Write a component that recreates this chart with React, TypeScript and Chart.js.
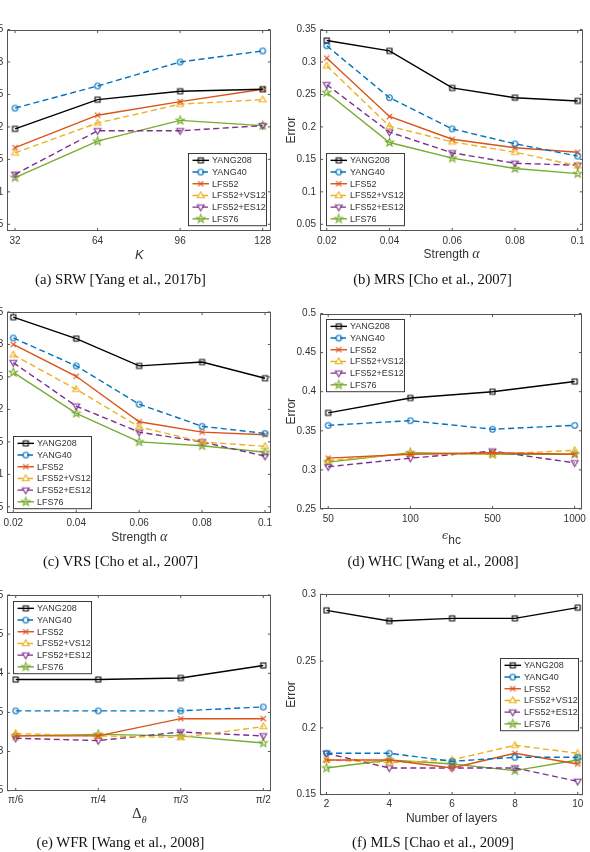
import React, { useEffect, useRef } from 'react';
import { Chart, registerables } from 'chart.js';

Chart.register(...registerables);
Chart.defaults.font.family = '"Liberation Sans", Arial, sans-serif';

// ---- series shared by all six panels ----
const SERIES = ['YANG208', 'YANG40', 'LFS52', 'LFS52+VS12', 'LFS52+ES12', 'LFS76'];

// (a) SRW
const SRW_K = [32, 64, 96, 128];
const SRW_YANG208 = [0.197, 0.242, 0.255, 0.258];
const SRW_YANG40 = [0.229, 0.263, 0.3, 0.317];
const SRW_LFS52 = [0.168, 0.218, 0.239, 0.258];
const SRW_VS12 = [0.16, 0.206, 0.235, 0.242];
const SRW_ES12 = [0.127, 0.194, 0.194, 0.202];
const SRW_LFS76 = [0.122, 0.178, 0.21, 0.202];

// (b) MRS
const MRS_ALPHA = [0.02, 0.04, 0.06, 0.08, 0.1];
const MRS_YANG208 = [0.333, 0.317, 0.26, 0.245, 0.24];
const MRS_YANG40 = [0.325, 0.245, 0.197, 0.174, 0.155];
const MRS_LFS52 = [0.306, 0.216, 0.181, 0.168, 0.161];
const MRS_VS12 = [0.294, 0.201, 0.177, 0.161, 0.14];
const MRS_ES12 = [0.265, 0.192, 0.16, 0.144, 0.141];
const MRS_LFS76 = [0.253, 0.176, 0.152, 0.136, 0.128];

// (c) VRS
const VRS_ALPHA = [0.02, 0.04, 0.06, 0.08, 0.1];
const VRS_YANG208 = [0.342, 0.309, 0.267, 0.273, 0.248];
const VRS_YANG40 = [0.31, 0.267, 0.208, 0.174, 0.163];
const VRS_LFS52 = [0.3, 0.251, 0.181, 0.165, 0.161];
const VRS_VS12 = [0.284, 0.231, 0.173, 0.15, 0.143];
const VRS_ES12 = [0.272, 0.205, 0.165, 0.15, 0.128];
const VRS_LFS76 = [0.257, 0.194, 0.15, 0.144, 0.134];

// (d) WHC — evenly spaced categories
const WHC_EPS_LABELS = ['50', '100', '500', '1000'];
const WHC_YANG208 = [0.373, 0.392, 0.4, 0.413];
const WHC_YANG40 = [0.357, 0.363, 0.352, 0.357];
const WHC_LFS52 = [0.315, 0.32, 0.322, 0.32];
const WHC_VS12 = [0.312, 0.321, 0.32, 0.325];
const WHC_ES12 = [0.304, 0.315, 0.324, 0.309];
const WHC_LFS76 = [0.31, 0.322, 0.32, 0.32];

// (e) WFR — evenly spaced categories
const WFR_DELTA_LABELS = ['π/6', 'π/4', 'π/3', 'π/2'];
const WFR_YANG208 = [0.392, 0.392, 0.394, 0.41];
const WFR_YANG40 = [0.352, 0.352, 0.352, 0.357];
const WFR_LFS52 = [0.32, 0.32, 0.342, 0.342];
const WFR_VS12 = [0.323, 0.32, 0.318, 0.332];
const WFR_ES12 = [0.317, 0.314, 0.325, 0.32];
const WFR_LFS76 = [0.32, 0.322, 0.32, 0.311];

// (f) MLS
const MLS_LAYERS = [2, 4, 6, 8, 10];
const MLS_YANG208 = [0.288, 0.28, 0.282, 0.282, 0.29];
const MLS_YANG40 = [0.181, 0.181, 0.175, 0.178, 0.178];
const MLS_LFS52 = [0.176, 0.176, 0.17, 0.181, 0.173];
const MLS_VS12 = [0.176, 0.174, 0.176, 0.187, 0.181];
const MLS_ES12 = [0.181, 0.17, 0.17, 0.17, 0.16];
const MLS_LFS76 = [0.17, 0.176, 0.173, 0.168, 0.176];

// y tick sets
const Y_TICKS_LOW = [0.05, 0.1, 0.15, 0.2, 0.25, 0.3, 0.35];
const Y_TICKS_HIGH = [0.25, 0.3, 0.35, 0.4, 0.45, 0.5];
const Y_TICKS_MLS = [0.15, 0.2, 0.25, 0.3];

// ---- styling ----
const COLORS = ['#000000', '#0072BD', '#D95319', '#EDB120', '#7E2F8E', '#77AC30'];
const DASH = [6, 3.5];
const DASHES = [[], DASH, [], DASH, DASH, []];
const MARKERS = ['square', 'circle', 'x', 'up', 'down', 'star'];
const TEXT = '#333333';
const FRAME = '#555555';
const TICK_FONT = 10;
const LEGEND_FONT = 9;

function makeMarker(kind: string, color: string): HTMLCanvasElement {
  const c = document.createElement('canvas');
  c.width = 13;
  c.height = 13;
  const g = c.getContext('2d')!;
  const m = 6.5;
  g.strokeStyle = color;
  g.lineWidth = 1.1;
  g.beginPath();
  if (kind === 'square') g.rect(m - 2.5, m - 2.5, 5, 5);
  else if (kind === 'circle') g.arc(m, m, 2.8, 0, Math.PI * 2);
  else if (kind === 'x') {
    g.moveTo(m - 2.7, m - 2.7); g.lineTo(m + 2.7, m + 2.7);
    g.moveTo(m + 2.7, m - 2.7); g.lineTo(m - 2.7, m + 2.7);
  } else if (kind === 'up') {
    g.moveTo(m, m - 3.6); g.lineTo(m + 3.4, m + 2.3); g.lineTo(m - 3.4, m + 2.3); g.closePath();
  } else if (kind === 'down') {
    g.moveTo(m, m + 3.6); g.lineTo(m + 3.4, m - 2.3); g.lineTo(m - 3.4, m - 2.3); g.closePath();
  } else if (kind === 'star') {
    for (let k = 0; k < 10; k++) {
      const r = k % 2 === 0 ? 4.3 : 1.75;
      const a = -Math.PI / 2 + (k * Math.PI) / 5;
      const px = m + r * Math.cos(a);
      const py = m + r * Math.sin(a);
      if (k === 0) g.moveTo(px, py); else g.lineTo(px, py);
    }
    g.closePath();
  }
  g.stroke();
  return c;
}

// Axes box, inward tick marks and a boxed legend with line + marker samples
const framePlugin = {
  id: 'frame',
  afterDatasetsDraw(chart: any, _args: any, opts: any) {
    const { ctx, chartArea: a, scales } = chart;
    ctx.save();
    ctx.setLineDash([]);
    ctx.strokeStyle = FRAME;
    ctx.lineWidth = 1;
    const L = Math.round(a.left) + 0.5;
    const R = Math.round(a.right) - 0.5;
    const T = Math.round(a.top) + 0.5;
    const B = Math.round(a.bottom) - 0.5;
    ctx.strokeRect(L, T, R - L, B - T);
    const tl = 2.6;
    ctx.beginPath();
    scales.x.ticks.forEach((t: any) => {
      const px = scales.x.getPixelForValue(t.value);
      ctx.moveTo(px, B); ctx.lineTo(px, B - tl);
      ctx.moveTo(px, T); ctx.lineTo(px, T + tl);
    });
    scales.y.ticks.forEach((t: any) => {
      const py = scales.y.getPixelForValue(t.value);
      ctx.moveTo(L, py); ctx.lineTo(L + tl, py);
      ctx.moveTo(R, py); ctx.lineTo(R - tl, py);
    });
    ctx.stroke();

    // legend
    const ds = chart.data.datasets;
    const rowH = 11.7;
    const w = 78;
    const h = ds.length * rowH + 2;
    const inset = 5.5;
    let x0 = a.left + inset;
    let y0 = a.top + inset;
    if (opts.loc === 'se' || opts.loc === 'e') x0 = a.right - inset - w;
    if (opts.loc === 'se' || opts.loc === 'sw') y0 = a.bottom - inset - h;
    if (opts.loc === 'e') y0 = (a.top + a.bottom) / 2 - h / 2;
    x0 = Math.round(x0) + 0.5;
    y0 = Math.round(y0) + 0.5;
    ctx.fillStyle = '#ffffff';
    ctx.fillRect(x0, y0, w, h);
    ctx.strokeStyle = '#3a3a3a';
    ctx.strokeRect(x0, y0, w, h);
    ctx.font = `${LEGEND_FONT}px "Liberation Sans", Arial, sans-serif`;
    ctx.textBaseline = 'middle';
    ds.forEach((d: any, i: number) => {
      const cy = y0 + 1 + rowH * (i + 0.5);
      ctx.strokeStyle = d.borderColor;
      ctx.lineWidth = d.borderWidth;
      ctx.setLineDash(d.borderDash || []);
      ctx.beginPath();
      ctx.moveTo(x0 + 4, cy);
      ctx.lineTo(x0 + 20.5, cy);
      ctx.stroke();
      ctx.setLineDash([]);
      const mk = d.pointStyle as HTMLCanvasElement;
      ctx.drawImage(mk, x0 + 12.3 - mk.width / 2, cy - mk.height / 2);
      ctx.fillStyle = TEXT;
      ctx.fillText(d.label, x0 + 23.5, cy + 0.5);
    });
    ctx.restore();
  },
};

type Box = { left: number; top: number; right: number; bottom: number };
type Spec = {
  canvasLeft: number;
  canvasTop: number;
  canvasWidth: number;
  plot: Box;
  xs: number[];
  xTicks: number[];
  xTickLabels?: string[];
  xMin: number;
  xMax: number;
  yMin: number;
  yMax: number;
  yTicks: number[];
  series: number[][];
  legendLoc: string;
  xTitle: React.ReactNode;
  xTitleY: number;
  caption: string;
  captionX: number;
  captionY: number;
};

const fmt = (v: number) => String(+v.toFixed(3));

function buildConfig(s: Spec, height: number): any {
  const padTop = s.plot.top - s.canvasTop;
  const yAxisW = s.plot.left - s.canvasLeft;
  const padRight = s.canvasLeft + s.canvasWidth - s.plot.right;
  const xAxisH = s.canvasTop + height - s.plot.bottom;
  const tickFont = { size: TICK_FONT, family: '"Liberation Sans", Arial, sans-serif' };
  return {
    type: 'line',
    data: {
      datasets: SERIES.map((name, i) => ({
        label: name,
        data: s.xs.map((x, j) => ({ x, y: s.series[i][j] })),
        borderColor: COLORS[i],
        backgroundColor: COLORS[i],
        borderWidth: 1.4,
        borderDash: DASHES[i],
        pointStyle: makeMarker(MARKERS[i], COLORS[i]),
        pointRadius: 4,
        pointHoverRadius: 4,
        fill: false,
        tension: 0,
      })),
    },
    options: {
      animation: false,
      responsive: false,
      devicePixelRatio: 1,
      events: [],
      layout: { padding: { top: padTop, right: padRight, left: 0, bottom: 0 } },
      plugins: {
        legend: { display: false },
        tooltip: { enabled: false },
        frame: { loc: s.legendLoc },
      },
      scales: {
        x: {
          type: 'linear',
          min: s.xMin,
          max: s.xMax,
          grid: { display: false, drawTicks: false },
          border: { display: false },
          afterBuildTicks: (sc: any) => {
            sc.ticks = s.xTicks.map((v) => ({ value: v }));
          },
          afterFit: (sc: any) => {
            sc.height = xAxisH;
          },
          ticks: {
            padding: 4,
            color: TEXT,
            font: tickFont,
            autoSkip: false,
            maxRotation: 0,
            callback: (v: number, i: number) => (s.xTickLabels ? s.xTickLabels[i] : fmt(v)),
          },
        },
        y: {
          type: 'linear',
          min: s.yMin,
          max: s.yMax,
          grid: { display: false, drawTicks: false },
          border: { display: false },
          afterBuildTicks: (sc: any) => {
            sc.ticks = s.yTicks.map((v) => ({ value: v }));
          },
          afterFit: (sc: any) => {
            sc.width = yAxisW;
          },
          title: {
            display: true,
            text: 'Error',
            color: TEXT,
            font: { size: 12, family: '"Liberation Sans", Arial, sans-serif' },
            padding: { top: 4.8, bottom: 0 },
          },
          ticks: {
            padding: 4,
            color: TEXT,
            font: tickFont,
            autoSkip: false,
            callback: (v: number) => fmt(v),
          },
        },
      },
    },
    plugins: [framePlugin],
  };
}

const abs = (x: number, y: number): React.CSSProperties => ({
  position: 'absolute',
  left: x,
  top: y,
  transform: 'translate(-50%, -50%)',
  whiteSpace: 'nowrap',
  lineHeight: 1,
});

function Panel({ spec }: { spec: Spec }) {
  const ref = useRef<HTMLCanvasElement>(null);
  const height = Math.ceil(spec.plot.bottom + 20 - spec.canvasTop);
  useEffect(() => {
    const chart = new Chart(ref.current as HTMLCanvasElement, buildConfig(spec, height));
    return () => chart.destroy();
  }, []);
  const cx = (spec.plot.left + spec.plot.right) / 2;
  return (
    <>
      <canvas
        ref={ref}
        width={spec.canvasWidth}
        height={height}
        style={{ position: 'absolute', left: spec.canvasLeft, top: spec.canvasTop, width: spec.canvasWidth, height }}
      />
      <div style={{ ...abs(cx, spec.xTitleY), fontFamily: '"Liberation Sans", Arial, sans-serif', fontSize: 12, color: TEXT }}>
        {spec.xTitle}
      </div>
      <div style={{ ...abs(spec.captionX, spec.captionY), fontFamily: '"Liberation Serif", "Times New Roman", serif', fontSize: 14.7, color: '#111' }}>
        {spec.caption}
      </div>
    </>
  );
}

const mathIt: React.CSSProperties = { fontFamily: '"Liberation Serif", "DejaVu Serif", serif', fontStyle: 'italic', fontSize: 14 };

const LEFT = { canvasLeft: -40, canvasWidth: 320 };
const RIGHT = { canvasLeft: 280, canvasWidth: 310 };

const SPECS: Spec[] = [
  {
    ...LEFT,
    canvasTop: 0,
    plot: { left: 7.3, top: 29.5, right: 271.3, bottom: 230.8 },
    xs: SRW_K,
    xTicks: SRW_K,
    xMin: 29,
    xMax: 131.33,
    yMin: 0.04,
    yMax: 0.35,
    yTicks: Y_TICKS_LOW,
    series: [SRW_YANG208, SRW_YANG40, SRW_LFS52, SRW_VS12, SRW_ES12, SRW_LFS76],
    legendLoc: 'se',
    xTitle: <span style={{ fontStyle: 'italic', fontSize: 13 }}>K</span>,
    xTitleY: 254,
    caption: '(a) SRW [Yang et al., 2017b]',
    captionX: 120.5,
    captionY: 278.5,
  },
  {
    ...RIGHT,
    canvasTop: 0,
    plot: { left: 320, top: 29.5, right: 583.3, bottom: 230.8 },
    xs: MRS_ALPHA,
    xTicks: MRS_ALPHA,
    xMin: 0.01786,
    xMax: 0.10178,
    yMin: 0.04,
    yMax: 0.35,
    yTicks: Y_TICKS_LOW,
    series: [MRS_YANG208, MRS_YANG40, MRS_LFS52, MRS_VS12, MRS_ES12, MRS_LFS76],
    legendLoc: 'sw',
    xTitle: (
      <>
        Strength <span style={mathIt}>α</span>
      </>
    ),
    xTitleY: 254,
    caption: '(b) MRS [Cho et al., 2007]',
    captionX: 432.5,
    captionY: 278.5,
  },
  {
    ...LEFT,
    canvasTop: 290,
    plot: { left: 7.3, top: 312, right: 271.3, bottom: 513.3 },
    xs: VRS_ALPHA,
    xTicks: VRS_ALPHA,
    xMin: 0.01809,
    xMax: 0.102,
    yMin: 0.04,
    yMax: 0.35,
    yTicks: Y_TICKS_LOW,
    series: [VRS_YANG208, VRS_YANG40, VRS_LFS52, VRS_VS12, VRS_ES12, VRS_LFS76],
    legendLoc: 'sw',
    xTitle: (
      <>
        Strength <span style={mathIt}>α</span>
      </>
    ),
    xTitleY: 536.5,
    caption: '(c) VRS [Cho et al., 2007]',
    captionX: 120.5,
    captionY: 561,
  },
  {
    ...RIGHT,
    canvasTop: 290,
    plot: { left: 320, top: 313.5, right: 583, bottom: 509 },
    xs: [1, 2, 3, 4],
    xTicks: [1, 2, 3, 4],
    xTickLabels: WHC_EPS_LABELS,
    xMin: 0.9,
    xMax: 4.085,
    yMin: 0.25,
    yMax: 0.5,
    yTicks: Y_TICKS_HIGH,
    series: [WHC_YANG208, WHC_YANG40, WHC_LFS52, WHC_VS12, WHC_ES12, WHC_LFS76],
    legendLoc: 'nw',
    xTitle: (
      <>
        <span style={{ fontFamily: '"DejaVu Serif", serif', fontStyle: 'italic', fontSize: 11 }}>ϵ</span>
        <span style={{ position: 'relative', top: 5, fontSize: 12 }}>hc</span>
      </>
    ),
    xTitleY: 535,
    caption: '(d) WHC [Wang et al., 2008]',
    captionX: 433,
    captionY: 561,
  },
  {
    ...LEFT,
    canvasTop: 575,
    plot: { left: 7.3, top: 595, right: 271.3, bottom: 790.7 },
    xs: [1, 2, 3, 4],
    xTicks: [1, 2, 3, 4],
    xTickLabels: WFR_DELTA_LABELS,
    xMin: 0.898,
    xMax: 4.097,
    yMin: 0.25,
    yMax: 0.5,
    yTicks: Y_TICKS_HIGH,
    series: [WFR_YANG208, WFR_YANG40, WFR_LFS52, WFR_VS12, WFR_ES12, WFR_LFS76],
    legendLoc: 'nw',
    xTitle: (
      <>
        <span style={{ fontFamily: '"Liberation Serif", serif', fontSize: 15 }}>Δ</span>
        <span style={{ fontFamily: '"Liberation Serif", serif', fontStyle: 'italic', fontSize: 10, position: 'relative', top: 5 }}>θ</span>
      </>
    ),
    xTitleY: 813,
    caption: '(e) WFR [Wang et al., 2008]',
    captionX: 120.5,
    captionY: 842,
  },
  {
    ...RIGHT,
    canvasTop: 575,
    plot: { left: 320, top: 594.3, right: 583.3, bottom: 794.7 },
    xs: MLS_LAYERS,
    xTicks: MLS_LAYERS,
    xMin: 1.793,
    xMax: 10.178,
    yMin: 0.15,
    yMax: 0.3,
    yTicks: Y_TICKS_MLS,
    series: [MLS_YANG208, MLS_YANG40, MLS_LFS52, MLS_VS12, MLS_ES12, MLS_LFS76],
    legendLoc: 'e',
    xTitle: 'Number of layers',
    xTitleY: 817.5,
    caption: '(f) MLS [Chao et al., 2009]',
    captionX: 433,
    captionY: 842,
  },
];

export default function App() {
  return (
    <div
      style={{
        position: 'absolute',
        left: 0,
        top: 0,
        width: 590,
        height: 852,
        overflow: 'hidden',
        background: '#ffffff',
      }}
    >
      {SPECS.map((s, i) => (
        <Panel key={i} spec={s} />
      ))}
    </div>
  );
}
